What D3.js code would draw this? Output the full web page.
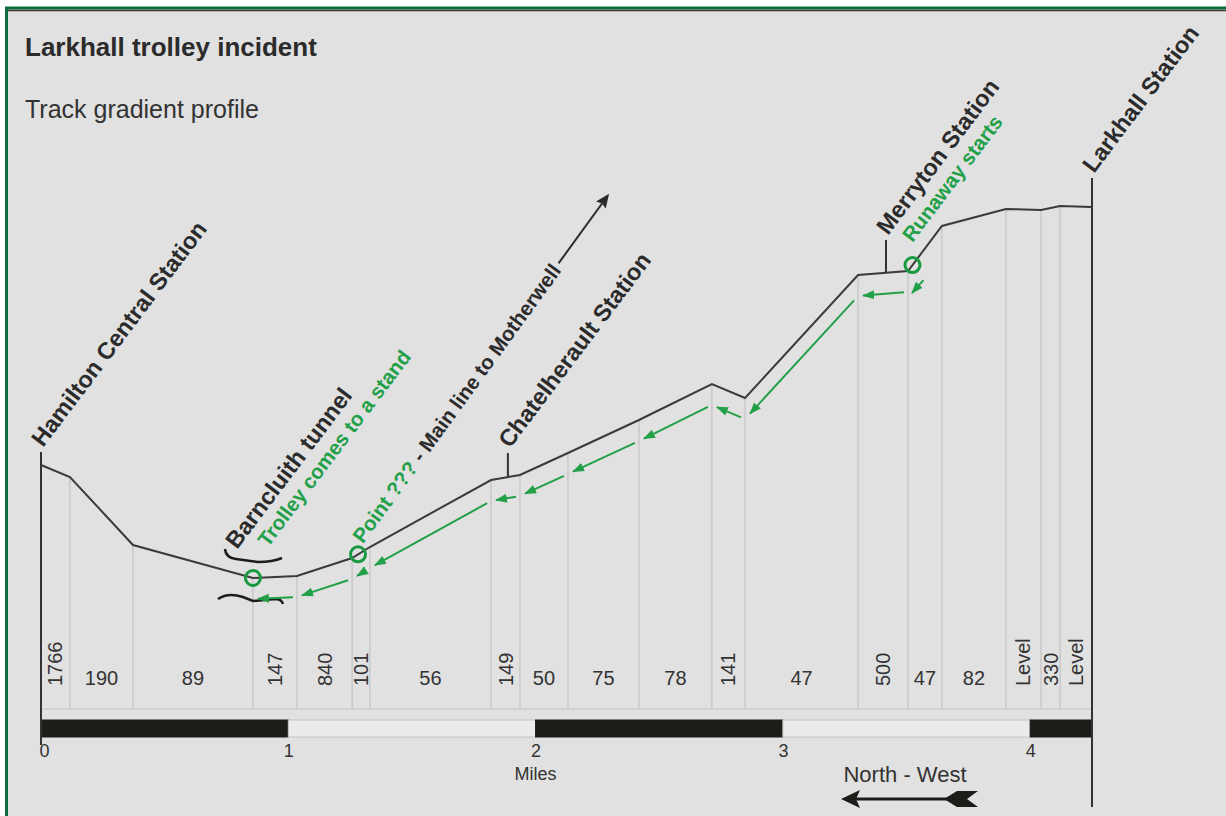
<!DOCTYPE html>
<html>
<head>
<meta charset="utf-8">
<script src="https://cdn.jsdelivr.net/npm/d3@7"></script>
<style>
  body { margin: 0; background: #fff; }
  svg { display: block; font-family: "Liberation Sans", Arial, sans-serif; }
</style>
</head>
<body>
<svg width="1226" height="816"></svg>
<script>
// section boundaries, miles from Hamilton Central
var boundaryMiles = [0, 0.117, 0.372, 0.857, 1.035, 1.258, 1.330, 1.820, 1.937, 2.131,
                     2.418, 2.713, 2.847, 3.304, 3.506, 3.643, 3.902, 4.044, 4.121, 4.250];
// relative track level at each boundary
var levels = [135, 123, 55, 22, 24, 42, 53, 120, 125, 147,
              180, 216, 202, 325, 329, 374, 391, 390, 394, 393];
// gradient (1 in ...) for each section
var gradients = ["1766", "190", "89", "147", "840", "101", "56", "149", "50", "75",
                 "78", "141", "47", "500", "47", "82", "Level", "330", "Level"];

var stationNames = ["Hamilton Central Station", "Chatelherault Station", "Merryton Station", "Larkhall Station"];
var stationMiles = [0, 1.888, 3.417, 4.25];
var stationTops = [148, 147, 360, 422];

var mileTicks = [0, 1, 2, 3, 4];

var tunnelMile = 0.857, stopMile = 0.857, pointMile = 1.282, startMile = 3.524;

var green = "#22a048", ink = "#2b2b2b";

var svg = d3.select("svg");

// frame
svg.append("rect").attr("x", 5).attr("y", 7).attr("width", 1221).attr("height", 809).attr("fill", "#e1e1e1");
svg.append("line").attr("x1", 5).attr("x2", 1226).attr("y1", 8).attr("y2", 8).attr("stroke", "#0b6b3b").attr("stroke-width", 3);
svg.append("line").attr("x1", 8).attr("x2", 1226).attr("y1", 10.5).attr("y2", 10.5).attr("stroke", "#3a3a3a").attr("stroke-width", 1.5);
svg.append("line").attr("x1", 6.5).attr("x2", 6.5).attr("y1", 7).attr("y2", 816).attr("stroke", "#0b6b3b").attr("stroke-width", 3);

svg.append("text").attr("x", 25).attr("y", 56).attr("font-size", 26).attr("font-weight", "bold")
   .attr("fill", ink).text("Larkhall trolley incident");
svg.append("text").attr("x", 25).attr("y", 118).attr("font-size", 25)
   .attr("fill", "#333").text("Track gradient profile");

var x = d3.scaleLinear().domain([0, 4.25]).range([41, 1092]);
var y = d3.scaleLinear().domain([0, 400]).range([600, 200]);
var levelAt = d3.scaleLinear().domain(boundaryMiles).range(levels);
function profY(px) { return y(levelAt(x.invert(px))); }

var baseY = 709, barTop = 720, barBot = 737;

var g = svg.append("g");

// section dividers
g.selectAll(".sec")
  .data(boundaryMiles.slice(1, boundaryMiles.length - 1))
  .enter().append("line")
    .attr("x1", function(d) { return x(d); }).attr("x2", function(d) { return x(d); })
    .attr("y1", function(d) { return y(levelAt(d)); }).attr("y2", baseY)
    .attr("stroke", "#bdbdbd").attr("stroke-width", 1);

g.append("line").attr("x1", x(0)).attr("x2", x(4.25)).attr("y1", baseY).attr("y2", baseY)
  .attr("stroke", "#c6c6c6").attr("stroke-width", 1.2);

// gradient labels
gradients.forEach(function(lab, i) {
  var x0 = x(boundaryMiles[i]), x1 = x(boundaryMiles[i + 1]);
  var cx = (x0 + x1) / 2, w = x1 - x0;
  var t = g.append("text").attr("font-size", 20).attr("fill", "#333").text(lab);
  if (lab.length >= 3 && w < 60) {
    t.attr("transform", "translate(" + (cx + 7) + "," + 686 + ") rotate(-90)");
  } else {
    t.attr("x", cx).attr("y", 685).attr("text-anchor", "middle");
  }
});

// profile
var line = d3.line();
g.append("path")
  .attr("d", line(boundaryMiles.map(function(m, i) { return [x(m), y(levels[i])]; })))
  .attr("fill", "none").attr("stroke", "#3a3a3a").attr("stroke-width", 2);

// scale bar
var segs = mileTicks.map(function(m) { return [m, Math.min(m + 1, 4.25)]; });
g.selectAll(".bar")
  .data(segs)
  .enter().append("rect")
    .attr("x", function(d) { return x(d[0]); })
    .attr("y", barTop)
    .attr("width", function(d) { return x(d[1]) - x(d[0]); })
    .attr("height", barBot - barTop)
    .attr("fill", function(d, i) { return i % 2 ? "#ebebeb" : "#1e1c19"; })
    .attr("stroke", function(d, i) { return i % 2 ? "#c4c4c4" : "#1e1c19"; })
    .attr("stroke-width", 1);

var axis = g.append("g")
  .attr("transform", "translate(0," + barBot + ")")
  .call(d3.axisBottom(x).tickValues(mileTicks).tickSize(0).tickPadding(7).tickFormat(d3.format("d")));
axis.select(".domain").remove();
axis.selectAll("text").attr("font-size", 18).attr("fill", "#333").attr("font-family", "Liberation Sans, Arial, sans-serif");
axis.selectAll("text").filter(function(d) { return d === 0; }).attr("dx", 3);

g.append("text").attr("x", x(2)).attr("y", 780).attr("text-anchor", "middle")
  .attr("font-size", 18).attr("fill", "#333").text("Miles");

// direction
g.append("text").attr("x", 905).attr("y", 782).attr("text-anchor", "middle")
  .attr("font-size", 22).attr("fill", "#333").text("North - West");
g.append("line").attr("x1", 852).attr("x2", 955).attr("y1", 799).attr("y2", 799)
  .attr("stroke", "#1e1c19").attr("stroke-width", 3);
g.append("path").attr("d", "M841,799 L860,790 L856,799 L860,808 Z").attr("fill", "#1e1c19");
g.append("path").attr("d", "M944,799 L957,791 L978,791 L967,799 L978,807 L957,807 Z").attr("fill", "#1e1c19");

// station posts and names
stationMiles.forEach(function(m, i) {
  var px = x(m), top = y(stationTops[i]);
  var bottom = i === 0 ? barBot + 8 : (i === stationMiles.length - 1 ? 807 : y(levelAt(m)));
  g.append("line").attr("x1", px).attr("x2", px).attr("y1", top).attr("y2", bottom)
    .attr("stroke", "#333").attr("stroke-width", 2);
  g.append("text")
    .attr("transform", "translate(" + (px + 2) + "," + (top - 4) + ") rotate(-53)")
    .attr("font-size", 23.5).attr("font-weight", "bold").attr("fill", ink)
    .text(stationNames[i]);
});

// tunnel
var tx = x(tunnelMile), ty = y(levelAt(tunnelMile));
g.append("text")
  .attr("transform", "translate(" + (tx - 16) + "," + (ty - 28) + ") rotate(-53)")
  .attr("font-size", 23.5).attr("font-weight", "bold").attr("fill", ink)
  .text("Barncluith tunnel");
g.append("path")
  .attr("d", "M" + (tx - 28) + "," + (ty - 29) + " Q" + (tx - 27) + "," + (ty - 20) + " " + (tx - 17) + "," + (ty - 19)
    + " L" + (tx + 5) + "," + (ty - 16) + " Q" + (tx + 20) + "," + (ty - 16) + " " + (tx + 29) + "," + (ty - 20))
  .attr("fill", "none").attr("stroke", "#1e1c19").attr("stroke-width", 2.5);
g.append("path")
  .attr("d", "M" + (tx - 35) + "," + (ty + 21) + " Q" + (tx - 25) + "," + (ty + 14) + " " + (tx - 10) + "," + (ty + 19)
    + " L" + (tx) + "," + (ty + 23) + " L" + (tx + 22) + "," + (ty + 21) + " Q" + (tx + 29) + "," + (ty + 21) + " " + (tx + 30) + "," + (ty + 26))
  .attr("fill", "none").attr("stroke", "#1e1c19").attr("stroke-width", 2.5);

// runaway path arrows
svg.append("defs").append("marker")
  .attr("id", "gh").attr("markerUnits", "userSpaceOnUse")
  .attr("viewBox", "0 -5 12 10").attr("refX", 11).attr("refY", 0)
  .attr("markerWidth", 12).attr("markerHeight", 10).attr("orient", "auto")
  .append("path").attr("d", "M0,-4.5L12,0L0,4.5Z").attr("fill", green);

var route = [startMile].concat(boundaryMiles.filter(function(m) { return m > stopMile + 0.01 && m < startMile; }).reverse(), [stopMile]);
var off = 21;
var arrows = [];
for (var i = 0; i < route.length - 1; i++) {
  var a = route[i], b = route[i + 1];
  if (i === 0) {
    arrows.push([x(a) + 11, y(levelAt(a)) + 15, x(b) + 4, y(levelAt(b)) + 22]);
  } else {
    var ax = x(a) - 4, bx = x(b) + 5;
    arrows.push([ax, profY(ax) + off, bx, profY(bx) + off]);
  }
}
g.selectAll(".arr")
  .data(arrows)
  .enter().append("line")
    .attr("x1", function(d) { return d[0]; }).attr("y1", function(d) { return d[1]; })
    .attr("x2", function(d) { return d[2]; }).attr("y2", function(d) { return d[3]; })
    .attr("stroke", green).attr("stroke-width", 2).attr("marker-end", "url(#gh)");

// event circles
[stopMile, pointMile, startMile].forEach(function(m) {
  g.append("circle").attr("cx", x(m)).attr("cy", y(levelAt(m))).attr("r", 7.5)
    .attr("fill", "none").attr("stroke", "#1a9a40").attr("stroke-width", 3);
});

g.append("text")
  .attr("transform", "translate(" + (x(stopMile) + 15) + "," + (y(levelAt(stopMile)) - 30) + ") rotate(-53)")
  .attr("font-size", 20.5).attr("font-weight", "bold").attr("fill", green)
  .text("Trolley comes to a stand");

g.append("text")
  .attr("transform", "translate(" + x(startMile) + "," + (y(levelAt(startMile)) - 22) + ") rotate(-53)")
  .attr("font-size", 20.5).attr("font-weight", "bold").attr("fill", green)
  .text("Runaway starts");

var pg = g.append("g")
  .attr("transform", "translate(" + (x(pointMile) + 5) + "," + (y(levelAt(pointMile)) - 10) + ") rotate(-54)");
var pt = pg.append("text").attr("font-size", 20.5).attr("font-weight", "bold");
pt.append("tspan").attr("fill", green).text("Point ???");
pt.append("tspan").attr("fill", ink).text(" - Main line to Motherwell");
var len = pt.node().getComputedTextLength();
pg.append("line").attr("x1", len + 4).attr("x2", len + 78).attr("y1", -7).attr("y2", -7)
  .attr("stroke", ink).attr("stroke-width", 2);
pg.append("path").attr("d", "M" + (len + 90) + ",-7 L" + (len + 76) + ",-13 L" + (len + 78) + ",-7 L" + (len + 76) + ",-1 Z")
  .attr("fill", ink);
</script>
</body>
</html>
